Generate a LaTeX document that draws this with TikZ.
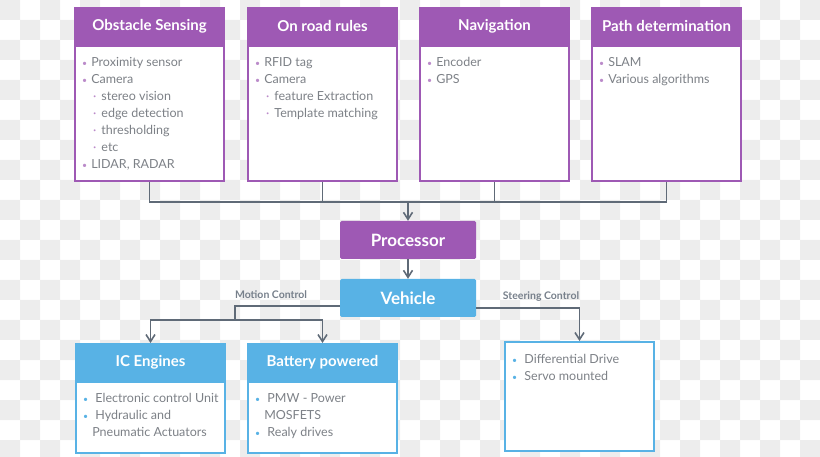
\documentclass[tikz,border=0pt]{standalone}
\usepackage{fontspec}
\setmainfont{Lato}
\usetikzlibrary{arrows.meta}

\definecolor{purp}{HTML}{9E59B4}
\definecolor{vblue}{HTML}{58B2E5}
\definecolor{lineg}{HTML}{5F6A77}
\definecolor{txtg}{HTML}{7D8187}
\definecolor{chk}{HTML}{EDEDED}

\newcommand{\itm}[1][purp!70]{\textcolor{#1}{\raisebox{0.1ex}{\scalebox{0.7}{\textbullet}}}\hspace{4pt}}
\newcommand{\subitm}[1][purp!70]{\hspace*{11pt}\textcolor{#1}{\textperiodcentered}\hspace{5pt}}

\begin{document}
\begin{tikzpicture}[x=1pt, y=-1pt, >={Straight Barb[length=7pt,width=9pt]},
	head/.style={rectangle, draw=#1, fill=#1, line width=2pt, anchor=north west, minimum width=149pt, minimum height=36pt, inner sep=0pt, text=white, font=\fontsize{15}{18}\selectfont\bfseries},
	frame/.style={rectangle, draw=#1, fill=white, line width=2pt, anchor=north, minimum width=149pt, inner sep=0pt},
	list/.style={anchor=north west, align=left, inner sep=0pt, text=txtg, font=\fontsize{12.5}{17}\selectfont},
	mainbox/.style={rectangle, fill=#1, rounded corners=1.5pt, minimum width=136pt, minimum height=38pt, inner sep=0pt, text=white, font=\fontsize{17}{20}\selectfont\bfseries},
	lbl/.style={inner sep=0pt, text=lineg!85, font=\fontsize{10.5}{12}\selectfont\bfseries},
	conn/.style={draw=lineg, line width=1.6pt}]

	\useasboundingbox (0,0) rectangle (820,457);
	% background squares
	\foreach \i in {0,40,...,800}
		\foreach \j in {0,40,...,440}
			\fill[chk] (\i,\j) rectangle ++(20,20) (\i+20,\j+20) rectangle ++(20,20);

	% sensing boxes
	\node[head=purp] (obsT) at (74,7) {Obstacle Sensing};
	\node[frame=purp, minimum height=135pt] (obs) at (obsT.south) {};
	\node[list] (obsL) at ([shift={(8,12.5)}]obs.north west) {\itm Proximity sensor\\ \itm Camera\\ \subitm stereo vision\\ \subitm edge detection\\ \subitm thresholding\\ \subitm etc\\ \itm LIDAR, RADAR};

	\node[head=purp] (roadT) at (247,7) {On road rules};
	\node[frame=purp, minimum height=135pt] (road) at (roadT.south) {};
	\node[list] (roadL) at ([shift={(8,12.5)}]road.north west) {\itm RFID tag\\ \itm Camera\\ \subitm feature Extraction\\ \subitm Template matching};

	\node[head=purp] (navT) at (419,7) {Navigation};
	\node[frame=purp, minimum height=135pt] (nav) at (navT.south) {};
	\node[list] (navL) at ([shift={(8,12.5)}]nav.north west) {\itm Encoder\\ \itm GPS};

	\node[head=purp] (pathT) at (591,7) {Path determination};
	\node[frame=purp, minimum height=135pt] (path) at (pathT.south) {};
	\node[list] (pathL) at ([shift={(8,12.5)}]path.north west) {\itm SLAM\\ \itm Various algorithms};

	% processor and vehicle
	\node[mainbox=purp] (proc) at (408,240) {Processor};
	\node[mainbox=vblue] (veh) at (408,298) {Vehicle};

	% drive boxes
	\node[head=vblue] (ic) at (75,343) {IC Engines};
	\node[frame=vblue, minimum height=71pt] (icB) at (ic.south) {};
	\node[list] (icL) at ([shift={(8,12.5)}]icB.north west) {\itm[vblue] Electronic control Unit\\ \itm[vblue] Hydraulic and\\ \phantom{\itm[vblue]}Pneumatic Actuators};

	\node[head=vblue] (bat) at (247,343) {Battery powered};
	\node[frame=vblue, minimum height=71pt] (batB) at (bat.south) {};
	\node[list] (batL) at ([shift={(8,12.5)}]batB.north west) {\itm[vblue] PMW - Power\\ \phantom{\itm[vblue]}MOSFETS\\ \itm[vblue] Realy drives};

	\node[frame=vblue, anchor=north west, minimum height=109pt] (steer) at (504,341) {};
	\node[list] (steerL) at ([shift={(8,13.5)}]steer.north west) {\itm[vblue] Differential Drive\\ \itm[vblue] Servo mounted};

	% connectors
	\coordinate (bus) at (408,202);
	\draw[conn] (obs.south) |- (bus);
	\draw[conn] (road.south) |- (bus);
	\draw[conn] (nav.south) |- (bus);
	\draw[conn] (path.south) |- (bus);
	\draw[conn,->] (bus) -- (proc.north);
	\draw[conn,->] (proc) -- (veh);

	\coordinate (mc) at (235,320);
	\draw[conn] ([yshift=-8pt]veh.west) -| (mc);
	\draw[conn,->] (mc) -| (ic.north);
	\draw[conn,->] (mc) -| (bat.north);
	\draw[conn,->] ([yshift=-10pt]veh.east) -| (steer.north);

	\node[lbl] (mclbl) at (271,295) {Motion Control};
	\node[lbl] (sclbl) at (541,297) {Steering Control};
\end{tikzpicture}
\end{document}
